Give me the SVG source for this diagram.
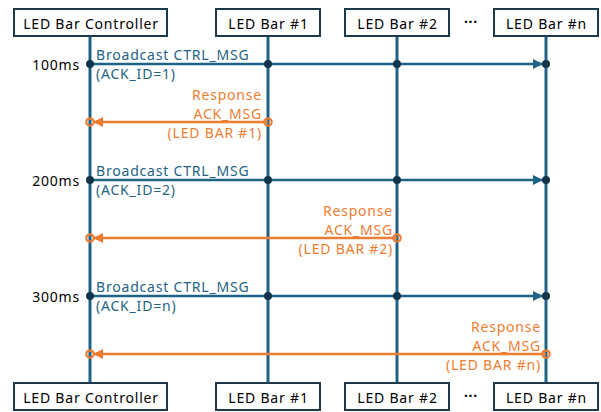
<svg xmlns="http://www.w3.org/2000/svg" width="601" height="412" viewBox="0 0 601 412">
<style>
.box{fill:#fff;stroke:#1b3a4b;stroke-width:2}
text{font-family:"Noto Sans","Open Sans",sans-serif;font-size:14px;letter-spacing:0.8px}
.bt{fill:#000;text-anchor:middle}
.life{stroke:#1f6384;stroke-width:3}
.bc{stroke:#1f6384;stroke-width:2.5;fill:none}
.rs{stroke:#ed7d31;stroke-width:2.5;fill:none}
.dd{fill:#12344a}
.od{fill:none;stroke:#ed7d31;stroke-width:2.2}
.bl{fill:#1f6384}
.ol{fill:#ed7d31;text-anchor:end}
.tm{fill:#000;text-anchor:end}
</style>
<defs>
<marker id="ab" markerWidth="10" markerHeight="10" refX="9" refY="5" orient="auto" markerUnits="userSpaceOnUse"><path d="M0,0 L10,5 L0,10 z" fill="#1f6384"/></marker>
<marker id="ao" markerWidth="10" markerHeight="10" refX="9" refY="5" orient="auto" markerUnits="userSpaceOnUse"><path d="M0,0 L10,5 L0,10 z" fill="#ed7d31"/></marker>
</defs>
<g id="lifelines">
<line class="life" x1="90" y1="36" x2="90" y2="383"/>
<line class="life" x1="268" y1="36" x2="268" y2="383"/>
<line class="life" x1="397" y1="36" x2="397" y2="383"/>
<line class="life" x1="546" y1="36" x2="546" y2="383"/>
</g>
<g id="node-controller-top"><rect class="box" x="14" y="9" width="153" height="27"/><text class="bt" x="91" y="29">LED Bar Controller</text></g>
<g id="node-bar1-top"><rect class="box" x="216" y="9" width="104" height="27"/><text class="bt" x="268.5" y="29">LED Bar #1</text></g>
<g id="node-bar2-top"><rect class="box" x="345" y="9" width="104" height="27"/><text class="bt" x="397.5" y="29">LED Bar #2</text></g>
<g id="node-barn-top"><rect class="box" x="494" y="9" width="104" height="27"/><text class="bt" x="546.5" y="29">LED Bar #n</text></g>
<g id="node-controller-bot"><rect class="box" x="14" y="383" width="153" height="27"/><text class="bt" x="91" y="403">LED Bar Controller</text></g>
<g id="node-bar1-bot"><rect class="box" x="216" y="383" width="104" height="27"/><text class="bt" x="268.5" y="403">LED Bar #1</text></g>
<g id="node-bar2-bot"><rect class="box" x="345" y="383" width="104" height="27"/><text class="bt" x="397.5" y="403">LED Bar #2</text></g>
<g id="node-barn-bot"><rect class="box" x="494" y="383" width="104" height="27"/><text class="bt" x="546.5" y="403">LED Bar #n</text></g>
<text class="bt" x="471" y="27" font-weight="bold">···</text>
<text class="bt" x="471" y="401" font-weight="bold">···</text>
<g id="connectors">
<line class="bc" x1="90" y1="64" x2="542" y2="64" marker-end="url(#ab)"/>
<line class="bc" x1="90" y1="180" x2="542" y2="180" marker-end="url(#ab)"/>
<line class="bc" x1="90" y1="296" x2="542" y2="296" marker-end="url(#ab)"/>
<line class="rs" x1="268" y1="122" x2="94" y2="122" marker-end="url(#ao)"/>
<line class="rs" x1="397" y1="238" x2="94" y2="238" marker-end="url(#ao)"/>
<line class="rs" x1="546" y1="354" x2="94" y2="354" marker-end="url(#ao)"/>
</g>
<g id="dots">
<circle class="dd" cx="90" cy="64" r="4"/><circle class="dd" cx="268" cy="64" r="4"/><circle class="dd" cx="397" cy="64" r="4"/><circle class="dd" cx="546" cy="64" r="4"/>
<circle class="dd" cx="90" cy="180" r="4"/><circle class="dd" cx="268" cy="180" r="4"/><circle class="dd" cx="397" cy="180" r="4"/><circle class="dd" cx="546" cy="180" r="4"/>
<circle class="dd" cx="90" cy="296" r="4"/><circle class="dd" cx="268" cy="296" r="4"/><circle class="dd" cx="397" cy="296" r="4"/><circle class="dd" cx="546" cy="296" r="4"/>
<circle class="od" cx="90" cy="122" r="3.7"/><circle class="od" cx="268" cy="122" r="3.7"/>
<circle class="od" cx="90" cy="238" r="3.7"/><circle class="od" cx="397" cy="238" r="3.7"/>
<circle class="od" cx="90" cy="354" r="3.7"/><circle class="od" cx="546" cy="354" r="3.7"/>
</g>
<g id="labels">
<text class="tm" x="80" y="70">100ms</text>
<text class="tm" x="80" y="186">200ms</text>
<text class="tm" x="80" y="302">300ms</text>
<text class="bl" x="96" y="60">Broadcast CTRL_MSG</text>
<text class="bl" x="96" y="79">(ACK_ID=1)</text>
<text class="bl" x="96" y="176">Broadcast CTRL_MSG</text>
<text class="bl" x="96" y="195">(ACK_ID=2)</text>
<text class="bl" x="96" y="292">Broadcast CTRL_MSG</text>
<text class="bl" x="96" y="311">(ACK_ID=n)</text>
<text class="ol" x="262" y="100">Response</text>
<text class="ol" x="262" y="119">ACK_MSG</text>
<text class="ol" x="262" y="138">(LED BAR #1)</text>
<text class="ol" x="393" y="216">Response</text>
<text class="ol" x="393" y="235">ACK_MSG</text>
<text class="ol" x="393" y="254">(LED BAR #2)</text>
<text class="ol" x="541" y="332">Response</text>
<text class="ol" x="541" y="351">ACK_MSG</text>
<text class="ol" x="541" y="370">(LED BAR #n)</text>
</g>
</svg>
